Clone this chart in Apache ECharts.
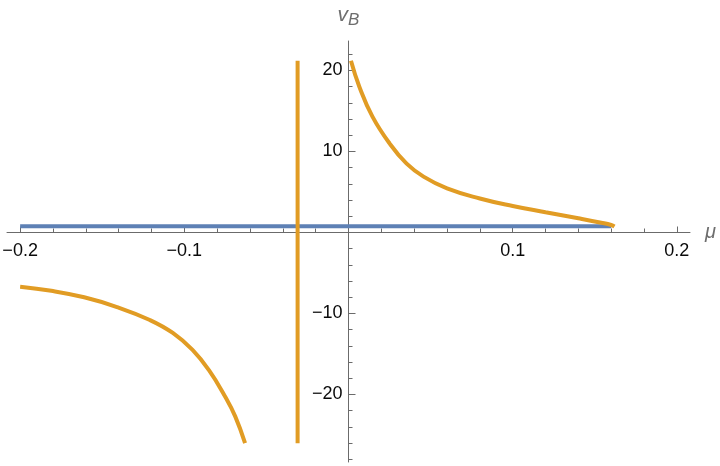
<!DOCTYPE html>
<html>
<head>
<meta charset="utf-8">
<script src="https://cdn.jsdelivr.net/npm/echarts@6/dist/echarts.min.js"></script>
<style>html,body{margin:0;padding:0;background:#fff;}#c{width:720px;height:466px;}</style>
</head>
<body>
<div id="c"></div>
<script>
// ---- data ----
var blueMu = [-0.2, 0.16];
var blueV = [0.78, 0.78];

var rightMu = [0.0015, 0.0066, 0.0146, 0.025, 0.0354, 0.0457, 0.06, 0.08, 0.1, 0.12, 0.14, 0.154, 0.16, 0.162];
var rightV  = [21.2, 18.0, 14.3, 11.0, 8.5, 6.9, 5.45, 4.2, 3.27, 2.5, 1.75, 1.2, 0.93, 0.75];

var poleMu = [-0.031, -0.031];
var poleV  = [21.2, -26.0];

var leftMu = [-0.2, -0.181, -0.161, -0.141, -0.121, -0.107, -0.095, -0.085, -0.075, -0.069, -0.063];
var leftV  = [-6.7, -7.2, -8.0, -9.2, -10.8, -12.4, -14.5, -17.0, -20.3, -22.7, -26.0];

var xMajorTicks = [-0.2, -0.1, 0.1, 0.2];
var xMinorTicks = [-0.18, -0.16, -0.14, -0.12, -0.08, -0.06, -0.04, -0.02, 0.02, 0.04, 0.06, 0.08, 0.12, 0.14, 0.16, 0.18];
var yMajorTicks = [-20, -10, 10, 20];
var yMinorTicks = [-28, -26, -24, -22, -18, -16, -14, -12, -8, -6, -4, -2, 2, 4, 6, 8, 12, 14, 16, 18, 22];

var xRange = [-0.208, 0.208];
var yRange = [-28.33, 23.64];

function zip(a, b) { return a.map(function (v, i) { return [v, b[i]]; }); }
function fmt(v) { return String(v).replace('-', '\u2212'); }

// layout of the plot box (pixels)
var L = 7, R = 30, T = 41, B = 4, W = 720, H = 466;
var plotW = W - L - R, plotH = H - T - B;
var zeroX = L + (0 - xRange[0]) / (xRange[1] - xRange[0]) * plotW;   // pixel x of mu = 0
var zeroY = T + (yRange[1] - 0) / (yRange[1] - yRange[0]) * plotH;   // pixel y of v = 0

var axisColor = '#6b6b6b';
var orange = '#E19C24';
var blue = '#5E81B5';
var labelFont = { color: '#0a0a0a', fontSize: 18, fontFamily: 'Liberation Sans' };

function g(l, r, t, b) { return { left: l, right: r, top: t, bottom: b, containLabel: false, outerBoundsMode: 'none' }; }
function hiddenAxis(type, gi, mn, mx) {
  return { type: type, gridIndex: gi, min: mn, max: mx, show: false,
           axisLine: { show: false, onZero: false }, axisTick: { show: false }, axisLabel: { show: false }, splitLine: { show: false } };
}
function curve(data, color) {
  return { type: 'line', xAxisIndex: 0, yAxisIndex: 0, data: data, showSymbol: false,
           smooth: 0.45,
           lineStyle: { color: color, width: 4 }, itemStyle: { color: color } };
}

var chart = echarts.init(document.getElementById('c'));
chart.setOption({
  animation: false,
  grid: [
    g(L, R, T, B),                 // 0: series
    g(L, R, T, H - zeroY),         // 1: x axis major (bottom edge at v=0)
    g(L, R, T, H - zeroY),         // 2: x axis minor
    g(zeroX, R, T, B),             // 3: y axis major (left edge at mu=0)
    g(zeroX, R, T, B)              // 4: y axis minor
  ],
  xAxis: [
    hiddenAxis('value', 0, xRange[0], xRange[1]),
    {
      type: 'value', gridIndex: 1, position: 'bottom', min: xRange[0], max: xRange[1],
      axisLine: { onZero: false, lineStyle: { color: axisColor, width: 1 } },
      axisTick: { inside: true, length: 6, customValues: xMajorTicks, lineStyle: { color: axisColor } },
      axisLabel: Object.assign({ customValues: xMajorTicks, formatter: fmt, margin: 10 }, labelFont),
      splitLine: { show: false },
      name: '\u03bc', nameLocation: 'end', nameGap: 15,
      nameTextStyle: { color: '#6e6e6e', fontSize: 20, fontStyle: 'italic', fontFamily: 'Liberation Sans', padding: [7, 0, 0, 0] }
    },
    {
      type: 'value', gridIndex: 2, position: 'bottom', min: xRange[0], max: xRange[1],
      axisLine: { show: false, onZero: false },
      axisTick: { inside: true, length: 4, customValues: xMinorTicks, lineStyle: { color: axisColor } },
      axisLabel: { show: false },
      splitLine: { show: false }
    },
    hiddenAxis('value', 3, 0, 1),
    hiddenAxis('value', 4, 0, 1)
  ],
  yAxis: [
    hiddenAxis('value', 0, yRange[0], yRange[1]),
    hiddenAxis('value', 1, 0, 1),
    hiddenAxis('value', 2, 0, 1),
    {
      type: 'value', gridIndex: 3, position: 'left', min: yRange[0], max: yRange[1],
      axisLine: { onZero: false, lineStyle: { color: axisColor, width: 1 } },
      axisTick: { inside: true, length: 7, customValues: yMajorTicks, lineStyle: { color: axisColor } },
      axisLabel: Object.assign({ customValues: yMajorTicks, formatter: fmt, margin: 6 }, labelFont),
      splitLine: { show: false },
      name: '{v|v}{b|B}', nameLocation: 'end', nameGap: 12,
      nameTextStyle: {
        rich: {
          v: { fontSize: 21, fontStyle: 'italic', color: '#6e6e6e', fontFamily: 'Liberation Sans', verticalAlign: 'top', lineHeight: 24 },
          b: { fontSize: 17, fontStyle: 'italic', color: '#6e6e6e', fontFamily: 'Liberation Sans', verticalAlign: 'bottom', lineHeight: 24, padding: [11, 0, 0, 0] }
        }
      }
    },
    {
      type: 'value', gridIndex: 4, position: 'left', min: yRange[0], max: yRange[1],
      axisLine: { show: false, onZero: false },
      axisTick: { inside: true, length: 4, customValues: yMinorTicks, lineStyle: { color: axisColor } },
      axisLabel: { show: false },
      splitLine: { show: false }
    }
  ],
  series: [
    { type: 'line', xAxisIndex: 0, yAxisIndex: 0, data: zip(blueMu, blueV), showSymbol: false,
      lineStyle: { color: blue, width: 4 }, itemStyle: { color: blue } },
    curve(zip(rightMu, rightV), orange),
    { type: 'line', xAxisIndex: 0, yAxisIndex: 0, data: zip(poleMu, poleV), showSymbol: false,
      lineStyle: { color: orange, width: 4 }, itemStyle: { color: orange } },
    curve(zip(leftMu, leftV), orange)
  ]
});
</script>
</body>
</html>
